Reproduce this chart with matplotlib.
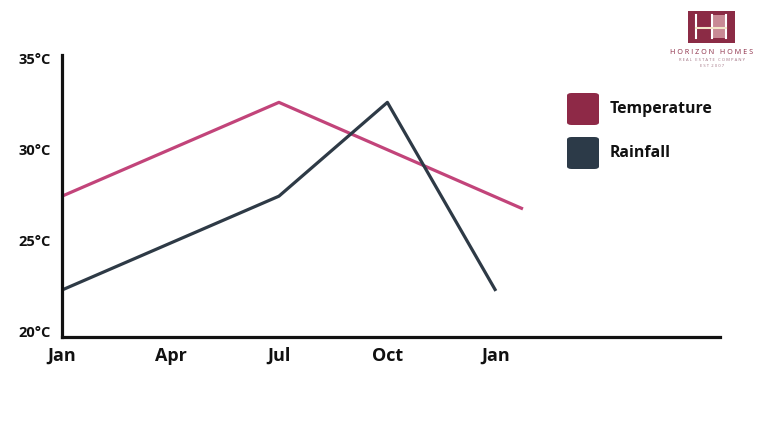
import matplotlib.pyplot as plt
from matplotlib.patches import FancyBboxPatch, Rectangle
from matplotlib.lines import Line2D

# data (x in months from Jan, y in deg C)
temp_months = [0, 6, 12.75]
temp_values = [27.45, 32.6, 26.75]
rain_months = [0, 6, 9, 12]
rain_values = [22.3, 27.45, 32.6, 22.25]

tick_months = [0, 3, 6, 9, 12]
tick_names = ["Jan", "Apr", "Jul", "Oct", "Jan"]
temp_ticks = [20, 25, 30, 35]

series_names = ["Temperature", "Rainfall"]
line_colors = ["#c2447a", "#2e3a46"]
swatch_colors = ["#8e2947", "#2c3a48"]

plt.rcParams['font.family'] = ['Open Sans', 'DejaVu Sans']

fig = plt.figure(figsize=(7.68, 4.33), dpi=100)
W, H = 768, 433

ax = fig.add_axes([62 / W, 1 - 337 / H, (720 - 62) / W, (337 - 55) / H])
ax.plot(temp_months, temp_values, color=line_colors[0], lw=2.3, solid_capstyle="butt")
ax.plot(rain_months, rain_values, color=line_colors[1], lw=2.3, solid_capstyle="butt")

ax.set_xlim(0, 18.2)
ax.set_ylim(19.72, 35.2)
ax.set_xticks(tick_months)
ax.set_xticklabels(tick_names, fontsize=13, fontweight="bold")
ax.get_xticklabels()[0].set_x(0.12)
ax.set_yticks(temp_ticks)
ax.set_yticklabels([f"{t}°C" for t in temp_ticks], fontsize=10.5, fontweight="bold")
ax.tick_params(axis="both", length=0, colors="#111111")
ax.tick_params(axis="x", pad=7)
ax.tick_params(axis="y", pad=8)
for s in ["top", "right"]:
    ax.spines[s].set_visible(False)
for s in ["left", "bottom"]:
    ax.spines[s].set_linewidth(2.3)
    ax.spines[s].set_color("#111111")

# legend drawn by hand: rounded swatches + labels
for i, name in enumerate(series_names):
    y0 = 93 + i * 44
    box = FancyBboxPatch((567 / W, 1 - (y0 + 32) / H), 32 / W, 32 / H,
                         boxstyle="round,pad=0,rounding_size=0.006",
                         transform=fig.transFigure, facecolor=swatch_colors[i],
                         edgecolor="none")
    fig.patches.append(box)
    fig.text(610 / W, 1 - (y0 + 16) / H, name, fontsize=11.4, fontweight="bold",
             color="#111111", va="center", ha="left")

# logo
logo_col = "#8b2b45"
fig.patches.append(Rectangle((688 / W, 1 - 43 / H), 47 / W, 32 / H,
                             transform=fig.transFigure, facecolor=logo_col, edgecolor="none"))
fig.patches.append(Rectangle((713 / W, 1 - 38 / H), 13 / W, 23 / H,
                             transform=fig.transFigure, facecolor="#c98a95", edgecolor="none"))
for xv in [696, 712, 726]:
    fig.lines.append(Line2D([xv / W, xv / W], [1 - 38 / H, 1 - 15 / H],
                            transform=fig.transFigure, color="white", lw=1.5))
fig.lines.append(Line2D([696 / W, 726 / W], [1 - 28 / H, 1 - 28 / H],
                        transform=fig.transFigure, color="#f3e6c8", lw=1.5))
fig.text(712 / W, 1 - 53 / H, "H O R I Z O N   H O M E S", fontsize=5.2, color=logo_col,
         ha="center", va="center")
fig.text(712 / W, 1 - 60 / H, "R E A L   E S T A T E   C O M P A N Y", fontsize=3,
         color="#a07080", ha="center", va="center")
fig.text(712 / W, 1 - 66 / H, "E S T  2 0 0 7", fontsize=3, color="#a07080",
         ha="center", va="center")

fig.savefig("out.png", dpi=100, facecolor="white")
